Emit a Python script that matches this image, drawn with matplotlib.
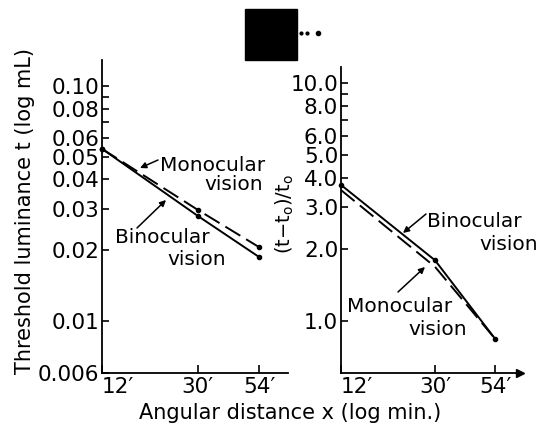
import matplotlib
matplotlib.use("Agg")
import matplotlib.pyplot as plt
from matplotlib.ticker import FixedLocator, FixedFormatter, NullFormatter
from matplotlib.patches import Rectangle
from matplotlib.lines import Line2D

plt.rcParams['font.family'] = ['DejaVu Sans']
plt.rcParams['mathtext.fontset'] = 'dejavusans'

# ---- data ----
angles = [12, 30, 54]
x_tick_labels = ["12\u2032", "30\u2032", "54\u2032"]

binocular_t = [0.054, 0.028, 0.0187]
monocular_t = [0.054, 0.0297, 0.0206]

binocular_ratio = [3.73, 1.80, 0.84]
monocular_ratio = [3.55, 1.69, 0.84]

left_yticks = [0.006, 0.01, 0.02, 0.03, 0.04, 0.05, 0.06, 0.08, 0.10]
left_ytick_labels = ["0.006", "0.01", "0.02", "0.03", "0.04", "0.05", "0.06", "0.08", "0.10"]
left_yminor = [0.07, 0.09]

right_yticks = [1.0, 2.0, 3.0, 4.0, 5.0, 6.0, 8.0, 10.0]
right_ytick_labels = ["1.0", "2.0", "3.0", "4.0", "5.0", "6.0", "8.0", "10.0"]
right_yminor = [7.0, 9.0]

W, H = 548, 433
fig = plt.figure(figsize=(W / 100, H / 100), dpi=100)


def fx(x):
    return x / W


def fy(y):
    return 1 - y / H


axL = fig.add_axes([fx(102), fy(373), fx(288 - 102), (373 - 60) / H])
axR = fig.add_axes([fx(341), fy(373), fx(520 - 341), (373 - 67) / H])

TICK_FS = 15.5
ANN_FS = 14.5
dash = (0, (9, 3.5))

for ax in (axL, axR):
    ax.set_xscale('log')
    ax.set_yscale('log')
    for s in ('top', 'right'):
        ax.spines[s].set_visible(False)
    for s in ('left', 'bottom'):
        ax.spines[s].set_linewidth(1.3)
    ax.xaxis.set_major_locator(FixedLocator(angles))
    ax.xaxis.set_major_formatter(FixedFormatter(x_tick_labels))
    ax.xaxis.set_minor_locator(FixedLocator([]))
    ax.xaxis.set_minor_formatter(NullFormatter())
    ax.tick_params(axis='both', which='both', direction='in', width=1.2,
                   labelsize=TICK_FS, pad=2)
    ax.tick_params(axis='y', which='major', length=5)
    ax.tick_params(axis='y', which='minor', length=5)
    ax.tick_params(axis='x', which='major', length=6, pad=3)
    ax.patch.set_alpha(0)

# left panel
axL.set_xlim(12, 71.2)
axL.set_ylim(0.006, 0.129)
axL.yaxis.set_major_locator(FixedLocator(left_yticks))
axL.yaxis.set_major_formatter(FixedFormatter(left_ytick_labels))
axL.yaxis.set_minor_locator(FixedLocator(left_yminor))
axL.yaxis.set_minor_formatter(NullFormatter())
axL.plot(angles, binocular_t, color='black', lw=1.4, marker='o', ms=3, clip_on=False)
axL.plot(angles, monocular_t, color='black', lw=1.4, ls=dash, marker='o', ms=3, clip_on=False)

# right panel
axR.set_xlim(12, 68.7)
axR.set_ylim(0.605, 11.67)
axR.yaxis.set_major_locator(FixedLocator(right_yticks))
axR.yaxis.set_major_formatter(FixedFormatter(right_ytick_labels))
axR.yaxis.set_minor_locator(FixedLocator(right_yminor))
axR.yaxis.set_minor_formatter(NullFormatter())
axR.plot(angles, binocular_ratio, color='black', lw=1.4, marker='o', ms=3, clip_on=False)
axR.plot(angles, monocular_ratio, color='black', lw=1.4, ls=dash, clip_on=False)
axR.plot(1.0, 0, marker='>', ms=6, color='black', transform=axR.transAxes, clip_on=False)

for ax in (axL, axR):
    labs = ax.get_xticklabels()
    labs[0].set_ha('left')

# axis labels
fig.text(fx(25), fy(211), "Threshold luminance t (log mL)", rotation=90,
         ha='center', va='center', fontsize=15)
fig.text(fx(285), fy(214), r"(t$-$t$_{\mathrm{o}}$)/t$_{\mathrm{o}}$", rotation=90,
         ha='center', va='center', fontsize=14)
fig.text(fx(290), fy(413), "Angular distance x (log min.)", ha='center', va='center',
         fontsize=15)

# annotations
def txt(x, y, s, ha='left'):
    fig.text(fx(x), fy(y), s, ha=ha, va='baseline', fontsize=ANN_FS)


def arrow(x0, y0, x1, y1):
    fig.add_artist(plt.Annotation('', xy=(fx(x1), fy(y1)), xytext=(fx(x0), fy(y0)),
                                  xycoords='figure fraction', textcoords='figure fraction',
                                  arrowprops=dict(arrowstyle='-|>', color='black', lw=1.1,
                                                  mutation_scale=9, shrinkA=0, shrinkB=0)))

txt(160, 171, "Monocular")
txt(263, 190, "vision", ha='right')
arrow(158, 160, 140, 168)

txt(115, 243, "Binocular")
txt(167, 265, "vision")
arrow(137, 228, 166, 200)

txt(427, 227, "Binocular")
txt(538, 250, "vision", ha='right')
arrow(426, 214, 403, 233)

txt(347, 312, "Monocular")
txt(408, 335, "vision")
arrow(398, 292, 425, 267)

# black block and dots at top
fig.add_artist(Rectangle((fx(245), fy(60)), fx(52), 51 / H, transform=fig.transFigure,
                         facecolor='black', edgecolor='black'))
fig.add_artist(Line2D([fx(301), fx(307)], [fy(33), fy(33)], transform=fig.transFigure,
                      ls='none', marker='o', ms=2, color='black'))
fig.add_artist(Line2D([fx(318)], [fy(33)], transform=fig.transFigure,
                      ls='none', marker='o', ms=3, color='black'))

fig.savefig('out.png', dpi=100)
